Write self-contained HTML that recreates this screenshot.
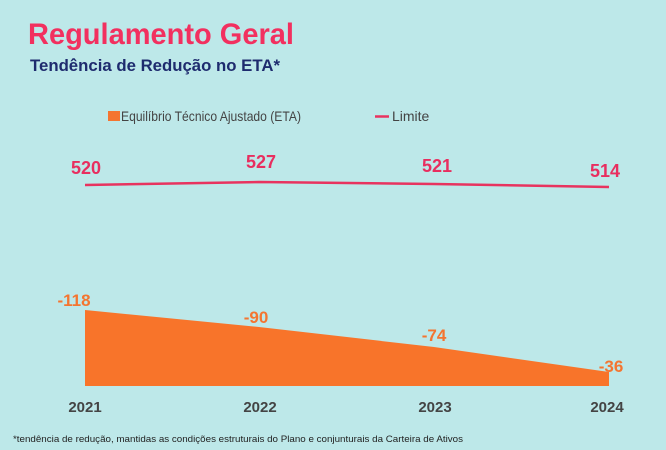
<!DOCTYPE html>
<html><head><meta charset="utf-8"><style>
body{margin:0;width:666px;height:450px;background:#bde8e9;overflow:hidden;font-family:"Liberation Sans",sans-serif}
svg{position:absolute;left:0;top:0}
</style></head><body>
<svg width="666" height="450" viewBox="0 0 666 450">
<rect width="666" height="450" fill="#bde8e9"/>
<text x="28" y="44" font-size="30" font-weight="bold" fill="#f2305f" textLength="266" lengthAdjust="spacingAndGlyphs">Regulamento Geral</text>
<text x="30" y="71" font-size="16.5" font-weight="bold" fill="#1e2b6e" textLength="250" lengthAdjust="spacingAndGlyphs">Tendência de Redução no ETA*</text>
<rect x="108" y="111" width="12" height="10" fill="#f47530"/>
<text x="121" y="121" font-size="14" fill="#444" textLength="180" lengthAdjust="spacingAndGlyphs">Equilíbrio Técnico Ajustado (ETA)</text>
<line x1="375" y1="116.5" x2="389" y2="116.5" stroke="#e8335f" stroke-width="2.5"/>
<text x="392" y="121" font-size="14" fill="#444">Limite</text>
<g font-size="18" font-weight="bold" fill="#e82e5f" text-anchor="middle">
<text x="86" y="174">520</text><text x="261" y="168">527</text><text x="437" y="172">521</text><text x="605" y="177">514</text>
</g>
<polyline points="85,185 259,182 434,184 609,187" fill="none" stroke="#e8335f" stroke-width="2.5"/>
<polygon points="85,310 259,327 434,347 609,372 609,386 85,386" fill="#f8742a"/>
<g font-size="17" font-weight="bold" fill="#f47530" text-anchor="middle">
<text x="74" y="306">-118</text><text x="256" y="323">-90</text><text x="434" y="341">-74</text><text x="611" y="372">-36</text>
</g>
<g font-size="15" font-weight="bold" fill="#444" text-anchor="middle">
<text x="85" y="412">2021</text><text x="260" y="412">2022</text><text x="435" y="412">2023</text><text x="607" y="412">2024</text>
</g>
<text x="13" y="442" font-size="9.5" fill="#222" textLength="450" lengthAdjust="spacingAndGlyphs">*tendência de redução, mantidas as condições estruturais do Plano e conjunturais da Carteira de Ativos</text>
</svg>
</body></html>
